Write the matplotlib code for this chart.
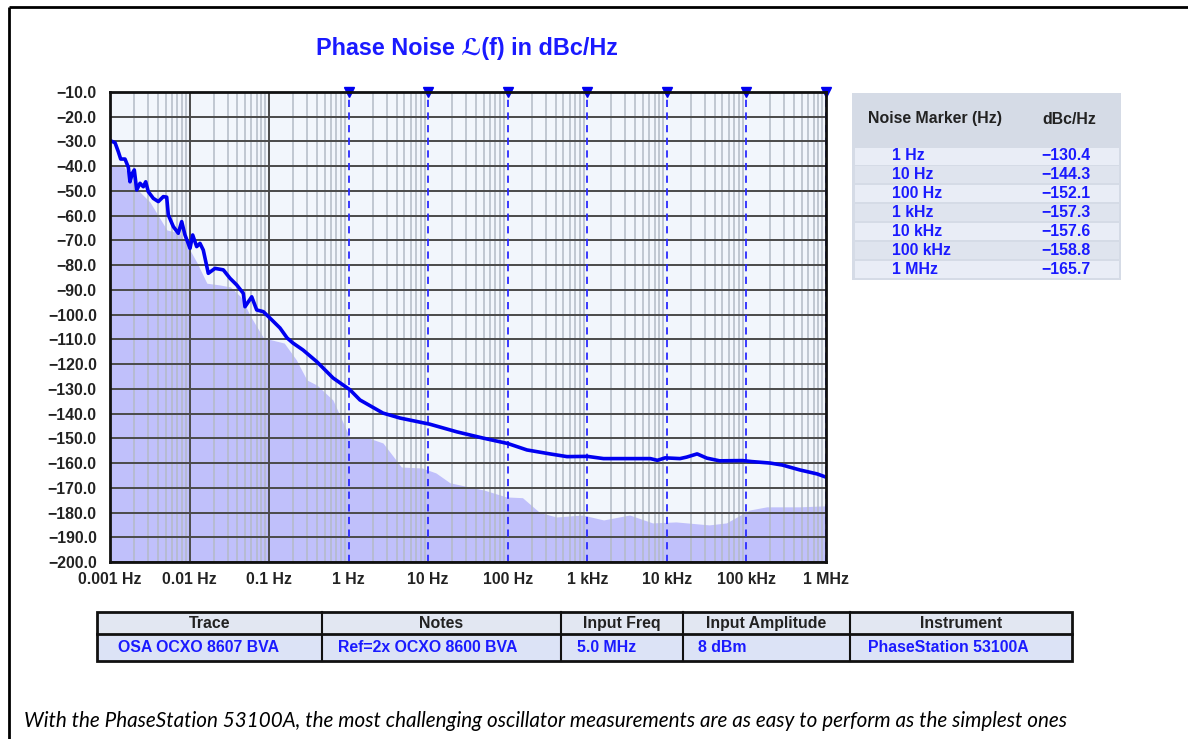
import matplotlib
matplotlib.use('Agg')
import matplotlib.pyplot as plt
from matplotlib.patches import Rectangle
from matplotlib.ticker import LogLocator, NullFormatter, FixedLocator

# measured phase noise trace (Hz, dBc/Hz)
trace_freq = [0.001, 0.00103, 0.001156, 0.001271, 0.001363, 0.001543, 0.001699,
              0.001784, 0.001907, 0.00202, 0.002166, 0.002384, 0.002622, 0.00281,
              0.00303, 0.003502, 0.004046, 0.004677, 0.005161, 0.005406, 0.006246,
              0.007219, 0.007964, 0.008763, 0.01013, 0.01095, 0.01229, 0.01353,
              0.01488, 0.0172, 0.02089, 0.02656, 0.03223, 0.03914, 0.04738, 0.04977,
              0.0604, 0.06982, 0.0845, 0.1026, 0.137, 0.168, 0.1997, 0.2668, 0.4,
              0.636, 1.04, 1.387, 2.7, 4.42, 10.5, 23.0, 48.8, 100, 174, 339, 555,
              1000, 1600, 6200, 7600, 9500, 14600, 17700, 24000, 31700, 46000,
              89000, 116000, 198000, 282000, 471000, 775000, 1e6]
trace_dbc = [-29.5, -29.8, -30.5, -34.1, -37.1, -37.1, -40.4,
             -46.3, -42.9, -41.5, -49.6, -46.9, -48.3, -46.3,
             -50.3, -53.0, -54.3, -52.3, -52.5, -59.7, -64.4,
             -67.1, -62.4, -67.8, -73.2, -67.8, -72.5, -71.2,
             -73.9, -83.3, -81.3, -81.9, -85.3, -88.0, -91.4, -96.8,
             -92.8, -98.1, -98.8, -101.4, -105.4, -109.4, -111.5, -114.3, -119.1,
             -125.6, -130.4, -134.5, -139.8, -141.8, -144.3, -147.4, -149.9, -152.1,
             -154.7, -156.3, -157.4,
             -157.3, -158.2, -158.2, -158.9, -157.9, -158.2, -157.6, -156.3, -158.0,
             -159.1, -159.0, -159.4, -160.0, -160.8, -162.8, -164.4, -165.7]

# shaded floor
floor_freq = [0.001, 0.0015, 0.0019, 0.00224, 0.00318, 0.0052, 0.0075, 0.0101,
              0.0124, 0.0165, 0.024, 0.0326, 0.044, 0.059, 0.085, 0.155, 0.22,
              0.298, 0.4, 0.633, 1.04, 1.8, 2.7, 4.6, 8.4, 12.5, 18.8, 50, 96,
              153, 252, 410, 872, 1600, 3400, 6600, 13000, 34000, 56000, 109000,
              180000, 466000, 1e6]
floor_dbc = [-40.0, -40.2, -46.0, -49.6, -54.5, -65.8, -67.0, -73.9,
             -79.0, -87.3, -88.0, -88.8, -92.8, -100.9, -109.4, -111.5, -118.3,
             -126.4, -128.5, -134.5, -149.9, -149.9, -151.9, -161.6, -162.0, -164.0,
             -168.0, -170.9, -173.7, -174.0, -180.0, -181.8, -181.0, -183.0, -181.0,
             -184.2, -183.8, -185.0, -184.2, -179.0, -177.7, -177.7, -177.3]

x_ticks = [1e-3, 1e-2, 1e-1, 1, 10, 100, 1e3, 1e4, 1e5, 1e6]
x_labels = ['0.001 Hz', '0.01 Hz', '0.1 Hz', '1 Hz', '10 Hz', '100 Hz',
            '1 kHz', '10 kHz', '100 kHz', '1 MHz']
y_ticks = list(range(-10, -201, -10))

marker_freq = [1, 10, 100, 1e3, 1e4, 1e5, 1e6]
marker_names = ['1 Hz', '10 Hz', '100 Hz', '1 kHz', '10 kHz', '100 kHz', '1 MHz']
marker_vals = ['\u2212130.4', '\u2212144.3', '\u2212152.1', '\u2212157.3',
               '\u2212157.6', '\u2212158.8', '\u2212165.7']

tbl_headers = ['Trace', 'Notes', 'Input Freq', 'Input Amplitude', 'Instrument']
tbl_values = ['OSA OCXO 8607 BVA', 'Ref=2x OCXO 8600 BVA', '5.0 MHz', '8 dBm',
              'PhaseStation 53100A']

caption = ('With the PhaseStation 53100A, the most challenging oscillator '
           'measurements are as easy to perform as the simplest ones')

W, H = 1188, 739
BLUE = '#0000f0'
TXTBLUE = '#1a1aff'
DARK = '#222222'
FONT = ['Liberation Sans', 'DejaVu Sans']
FS = 11.4

fig = plt.figure(figsize=(W / 100, H / 100), dpi=100)
fig.patch.set_facecolor('white')

# overlay axes in pixel coordinates for frame, tables and captions
ov = fig.add_axes([0, 0, 1, 1])
ov.set_xlim(0, W)
ov.set_ylim(H, 0)
ov.axis('off')
ov.patch.set_visible(False)

# page frame
ov.plot([9, W], [7, 7], color='black', lw=2, solid_capstyle='butt')
ov.plot([9, 9], [7, H], color='black', lw=2, solid_capstyle='butt')

# main plot
L, R, T, B = 110, 826, 92, 562
ax = fig.add_axes([L / W, (H - B) / H, (R - L) / W, (B - T) / H])
ax.set_facecolor('#f2f6fc')
ax.set_xscale('log')
ax.set_xlim(1e-3, 1e6)
ax.set_ylim(-200, -10)

ax.fill_between(floor_freq, floor_dbc, -200, color='#c0c0fb', lw=0, zorder=1)
ax.plot(trace_freq, trace_dbc, color=BLUE, lw=2.6, zorder=4,
        solid_joinstyle='round')

ax.xaxis.set_major_locator(FixedLocator(x_ticks))
ax.set_xticklabels(x_labels)
ax.xaxis.set_minor_locator(LogLocator(base=10, subs=range(2, 10), numticks=30))
ax.xaxis.set_minor_formatter(NullFormatter())
ax.set_yticks(y_ticks)
ax.set_yticklabels(['\u2212%.1f' % abs(v) for v in y_ticks])

ax.grid(True, which='minor', axis='x', color='#b3bac6', lw=1.1)
ax.grid(True, which='major', axis='y', color='#4a4a4a', lw=1.4)
for f in x_ticks[1:3]:
    ax.axvline(f, color='#4a4a4a', lw=1.4, zorder=1.6)
for f in marker_freq:
    ax.axvline(f, color='#2a2aff', lw=1.3, ls=(0, (4, 3)), zorder=2)
ax.plot(marker_freq, [-10] * len(marker_freq), 'v', color=BLUE, ms=6.5,
        clip_on=False, zorder=5)

ax.tick_params(axis='both', which='both', length=0, colors=DARK)
ax.tick_params(axis='y', pad=9.5)
ax.tick_params(axis='x', pad=7.5)
for lab in ax.get_xticklabels() + ax.get_yticklabels():
    lab.set_fontfamily(FONT)
    lab.set_fontweight('bold')
    lab.set_fontsize(FS)
for sp in ax.spines.values():
    sp.set_linewidth(2)
    sp.set_color('#111111')
    sp.set_zorder(6)

ov.text(467, 48, 'Phase Noise \u2112(f) in dBc/Hz', color=TXTBLUE,
        family=FONT, fontweight='bold', fontsize=16.8, ha='center', va='center')

# marker table
ov.add_patch(Rectangle((852, 93), 269, 187, color='#d5dbe6', lw=0))
ov.text(868, 119, 'Noise Marker (Hz)', family=FONT, fontweight='bold',
        fontsize=FS, color=DARK, va='center')
ov.text(1069, 119, 'dBc/Hz', family=FONT, fontweight='bold',
        fontsize=FS, color=DARK, va='center', ha='center')
for i, (name, val) in enumerate(zip(marker_names, marker_vals)):
    yc = 156 + i * 18.85
    shade = '#e9edf6' if i % 2 == 0 else '#dfe4ee'
    ov.add_patch(Rectangle((855, yc - 8.5), 264, 17, color=shade, lw=0))
    ov.text(892, yc, name, family=FONT, fontweight='bold', fontsize=FS,
            color=TXTBLUE, va='center')
    ov.text(1041, yc, val, family=FONT, fontweight='bold', fontsize=FS,
            color=TXTBLUE, va='center')

# info table
col_edges = [97, 322, 561, 683, 850, 1072]
col_pad = [21, 16, 16, 15, 18]
ov.add_patch(Rectangle((97, 612), 975, 22, facecolor='#e2e7f2', lw=0))
ov.add_patch(Rectangle((97, 634), 975, 27, facecolor='#dce3f6', lw=0))
ov.add_patch(Rectangle((97, 612), 975, 49, fill=False, edgecolor='#111111', lw=2))
ov.plot([97, 1072], [634, 634], color='#111111', lw=2)
for xe in col_edges[1:-1]:
    ov.plot([xe, xe], [612, 661], color='#111111', lw=1.5)
for i, (hd, vl) in enumerate(zip(tbl_headers, tbl_values)):
    x0, x1 = col_edges[i], col_edges[i + 1]
    ov.text((x0 + x1) / 2, 623.5, hd, family=FONT, fontweight='bold',
            fontsize=FS, color=DARK, ha='center', va='center')
    ov.text(x0 + col_pad[i], 648, vl, family=FONT, fontweight='bold',
            fontsize=FS, color=TXTBLUE, ha='left', va='center')

# caption, fitted to the width it has in the page
cap = ov.text(24, 721, caption, family=['Lato', 'DejaVu Sans'], style='italic',
              fontsize=14, color='black', ha='left', va='center')
fig.canvas.draw()
ext = cap.get_window_extent(fig.canvas.get_renderer())
cap.set_fontsize(14 * 1046 / ext.width)

fig.savefig('out.png', dpi=100, facecolor='white')
